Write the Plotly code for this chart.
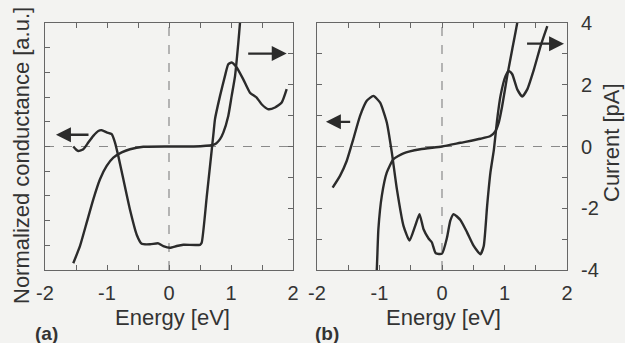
import plotly.graph_objects as go

# ---------------- data ----------------
# Panel (a): current (right axis, pA)
E_a_cur = [-1.544, -1.435, -1.327, -1.221, -1.113, -1.005, -0.898, -0.763, -0.629, -0.415,
           0.0, 0.40, 0.70, 0.76, 0.823, 0.876, 0.956, 1.011, 1.065, 1.118, 1.145, 1.17]
I_a = [-3.78, -3.22, -2.46, -1.71, -1.06, -0.63, -0.36, -0.19, -0.09, -0.01,
       0.0, 0.0, 0.05, 0.10, 0.24, 0.45, 0.99, 1.64, 2.28, 3.36, 4.0, 4.5]

# Panel (a): normalized conductance (left axis, a.u.)
E_a_g = [-1.544, -1.50, -1.463, -1.382, -1.302, -1.221, -1.140, -1.085, -1.005, -0.924,
         -0.871, -0.818, -0.737, -0.629, -0.521, -0.440, -0.306, -0.173, -0.092, 0.016,
         0.124, 0.231, 0.50, 0.527, 0.608, 0.661, 0.715, 0.742, 0.823, 0.903,
         0.956, 1.011, 1.092, 1.198, 1.306, 1.414, 1.494, 1.602, 1.710, 1.818, 1.898]
G_a = [0.0, -0.12, -0.18, -0.11, 0.16, 0.43, 0.63, 0.66, 0.57, 0.50,
       0.16, -0.38, -1.32, -2.56, -3.57, -3.94, -3.96, -3.92, -4.03, -4.10,
       -4.03, -3.98, -3.98, -3.90, -2.05, -0.80, 0.47, 1.11, 2.05, 2.86,
       3.33, 3.40, 3.20, 2.72, 2.18, 1.98, 1.71, 1.51, 1.58, 1.78, 2.32]

# Panel (b): current (right axis, pA)
E_b_cur = [-1.065, -1.043, -1.018, -0.963, -0.883, -0.777, -0.616, -0.348, 0.0, 0.294,
           0.615, 0.775, 0.855, 0.909, 0.963, 1.043, 1.124, 1.204, 1.225]
I_b = [-4.5, -3.97, -2.68, -1.60, -0.84, -0.41, -0.22, -0.09, 0.0, 0.12,
       0.25, 0.34, 0.50, 0.78, 1.31, 2.28, 3.15, 4.01, 4.4]

# Panel (b): normalized conductance (left axis, a.u.)
E_b_g = [-1.750, -1.632, -1.525, -1.419, -1.311, -1.204, -1.098, -0.990, -0.883, -0.803,
         -0.722, -0.616, -0.520, -0.429, -0.360, -0.295, -0.215, -0.161, -0.100, 0.0,
         0.08, 0.133, 0.186, 0.294, 0.401, 0.507, 0.615, 0.668, 0.722, 0.775,
         0.83, 0.883, 0.936, 1.016, 1.069, 1.124, 1.204, 1.284, 1.364, 1.471,
         1.578, 1.685]
G_b = [-1.33, -0.95, -0.47, 0.24, 0.99, 1.48, 1.64, 1.42, 0.78, -0.19,
       -1.38, -2.57, -3.05, -2.57, -2.19, -2.68, -2.98, -3.11, -3.46, -3.47,
       -2.95, -2.40, -2.19, -2.38, -2.78, -3.22, -3.49, -3.22, -1.92, -0.84,
       -0.10, 0.88, 1.64, 2.28, 2.45, 2.34, 1.85, 1.62, 1.85, 2.50,
       3.26, 3.90]

# tick values / labels
x_ticks = [-2, -1, 0, 1, 2]
x_ticklabels = ["-2", "-1", "0", "1", "2"]
current_tickvals = [-4, -3, -2, -1, 0, 1, 2, 3, 4]
current_ticklabels = ["-4", "", "-2", "", "0", "", "2", "", "4"]

# arrows: (head_x, tail_x, y in pA) indicating which axis each curve uses
arrows_a = [(-1.823, -1.274, 0.38), (1.898, 1.253, 3.01)]
arrows_b = [(-1.857, -1.445, 0.80), (1.952, 1.337, 3.33)]

# ---------------- figure ----------------
W, H = 625, 343
INK = "#2b2b2b"
AXC = "#666666"
BG = "#f3f3f1"
FONT = "Liberation Sans, Arial, sans-serif"

fig = go.Figure()
line = dict(color=INK, width=2.4, shape="spline", smoothing=0.5)
fig.add_trace(go.Scatter(x=E_a_g, y=G_a, mode="lines", line=line, xaxis="x", yaxis="y"))
fig.add_trace(go.Scatter(x=E_a_cur, y=I_a, mode="lines", line=line, xaxis="x", yaxis="y2"))
fig.add_trace(go.Scatter(x=E_b_g, y=G_b, mode="lines", line=line, xaxis="x2", yaxis="y3"))
fig.add_trace(go.Scatter(x=E_b_cur, y=I_b, mode="lines", line=line, xaxis="x2", yaxis="y4"))

def px_dom(a, b, total):
    return [a / total, b / total]

xd_a = px_dom(45, 293, W)
xd_b = px_dom(317, 567, W)
yd = [1 - 270 / H, 1 - 23 / H]

common_x = dict(range=[-2, 2], tickvals=x_ticks, ticktext=x_ticklabels, ticks="inside",
                ticklen=5, tickcolor=AXC, showline=True, linecolor=AXC, linewidth=1,
                mirror="ticks", showgrid=False, zeroline=False, automargin=False,
                minor=dict(dtick=0.5, ticks="inside", ticklen=5, tickcolor=AXC, showgrid=False),
                tickfont=dict(size=20, color="#333", family=FONT), ticklabelstandoff=5)
common_y = dict(ticks="inside", ticklen=5, tickcolor=AXC, showline=True, linecolor=AXC,
                linewidth=1, showgrid=False, zeroline=False, automargin=False)

fig.update_layout(
    width=W, height=H, showlegend=False,
    margin=dict(l=0, r=0, t=0, b=0),
    paper_bgcolor=BG, plot_bgcolor=BG,
    font=dict(family=FONT, color="#333"),
    xaxis=dict(domain=xd_a, anchor="y", **common_x),
    xaxis2=dict(domain=xd_b, anchor="y3", **common_x),
    yaxis=dict(domain=yd, anchor="x", range=[-5, 5], dtick=1, showticklabels=False, **common_y),
    yaxis2=dict(domain=yd, anchor="x", overlaying="y", side="right", range=[-4, 4], dtick=1,
                showticklabels=False, **common_y),
    yaxis3=dict(domain=yd, anchor="x2", range=[-4, 4], dtick=1, showticklabels=False, **common_y),
    yaxis4=dict(domain=yd, anchor="x2", overlaying="y3", side="right", range=[-4, 4],
                tickvals=current_tickvals, ticktext=current_ticklabels,
                showticklabels=True, ticklabelstandoff=9,
                tickfont=dict(size=20, color="#333", family=FONT), **common_y),
)

# dashed zero lines
dash = dict(color="#8a8a8a", width=1.2, dash="dash")
for xr, yr in (("x", "y2"), ("x2", "y4")):
    fig.add_shape(type="line", xref=xr, yref=yr + " domain",
                  x0=0, x1=0, y0=0, y1=1, line=dash, layer="below")
    fig.add_shape(type="line", xref=xr + " domain", yref=yr, x0=0, x1=1, y0=0, y1=0,
                  line=dash, layer="below")

# arrows
for (hx, tx, yy), xr, yr in [(a, "x", "y2") for a in arrows_a] + [(a, "x2", "y4") for a in arrows_b]:
    fig.add_annotation(x=hx, y=yy, ax=tx, ay=yy, xref=xr, yref=yr, axref=xr, ayref=yr,
                       text="", showarrow=True, arrowhead=2, arrowsize=1.3,
                       arrowwidth=2.3, arrowcolor=INK)

title_font = dict(size=22, color="#333", family=FONT)
# axis titles
fig.add_annotation(text="Normalized conductance [a.u.]", textangle=-90, xref="paper", yref="paper",
                   x=21 / W, y=1 - 156 / H, showarrow=False, font=title_font,
                   xanchor="center", yanchor="middle")
fig.add_annotation(text="Current [pA]", textangle=-90, xref="paper", yref="paper",
                   x=611 / W, y=1 - 143 / H, showarrow=False, font=title_font,
                   xanchor="center", yanchor="middle")
for cx in (172, 443):
    fig.add_annotation(text="Energy [eV]", xref="paper", yref="paper", x=cx / W, y=1 - 317 / H,
                       showarrow=False, font=title_font, xanchor="center", yanchor="middle")
# panel labels
for lbl, lx in (("(a)", 33), ("(b)", 313)):
    fig.add_annotation(text="<b>%s</b>" % lbl, xref="paper", yref="paper", x=lx / W, y=1 - 333 / H,
                       showarrow=False, font=dict(size=19, color="#333", family=FONT),
                       xanchor="left", yanchor="middle")

fig.write_html("out.html", config={"displayModeBar": False},
               post_script="document.body.style.margin='0px';")
